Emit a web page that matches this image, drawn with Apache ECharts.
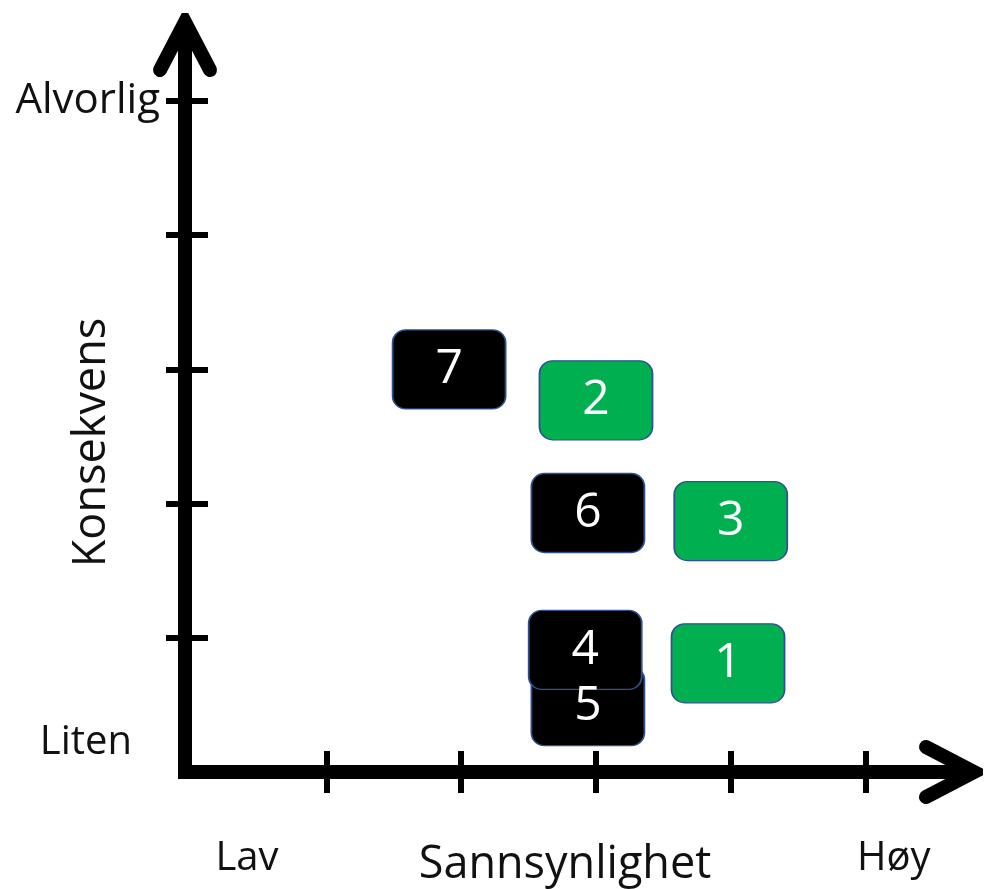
<!DOCTYPE html>
<html><head><meta charset="utf-8">
<script src="https://cdn.jsdelivr.net/npm/echarts@6/dist/echarts.min.js"></script>
<style>html,body{margin:0;padding:0;background:#fff}#c{width:984px;height:889px}</style>
</head><body><div id="c"></div>
<script>
// ---- data ----
const greenIds = ['1', '2', '3'];
const greenX = [3.98, 3.00, 4.00];
const greenY = [0.81, 2.77, 1.87];
const blackIds = ['7', '6', '5', '4'];
const blackX = [1.91, 2.94, 2.94, 2.92];
const blackY = [3.00, 1.93, 0.49, 0.91];
const xTicks = [1, 2, 3, 4, 5];
const yTicks = [1, 2, 3, 4, 5];
const xLabels = ['Lav', 'Høy'];
const yLabels = ['Liten', 'Alvorlig'];
const xName = 'Sannsynlighet';
const yName = 'Konsekvens';

// ---- style ----
const FONT = 'Open Sans';
const TXT = '#111111';
const arrowPath = 'path://M3.2,-9 L31.21,44.77 A7,7 0 0 1 18.79,51.23 L0,15.15 L-18.79,51.23 A7,7 0 0 1 -31.21,44.77 L-3.2,-9 Z';
const boxPath = 'path://M13,0 L100,0 A13,13 0 0 1 113,13 L113,66 A13,13 0 0 1 100,79 L13,79 A13,13 0 0 1 0,66 L0,13 A13,13 0 0 1 13,0 Z';
const X_MIN = -0.05, X_MAX = 5.694, Y_MIN = 0, Y_MAX = 5.477;

const mainLine = {
  show: true, onZero: false,
  symbol: ['none', arrowPath], symbolSize: [64, 64], symbolOffset: [0, -8],
  lineStyle: { color: '#000', width: 14, cap: 'square' }
};
const tickAxisCommon = {
  axisLine: { show: false, onZero: false },
  axisLabel: { show: false },
  splitLine: { show: false },
  axisTick: { show: true, inside: false, length: 42, lineStyle: { color: '#000', width: 6 } }
};

const chart = echarts.init(document.getElementById('c'), null, { renderer: 'canvas' });
chart.setOption({
  animation: false,
  backgroundColor: '#ffffff',
  grid: { left: 185, top: 37, width: 774, height: 735, outerBoundsMode: 'none' },
  xAxis: [
    {
      type: 'value', position: 'bottom', min: X_MIN, max: X_MAX,
      axisLine: mainLine,
      axisTick: { show: false },
      splitLine: { show: false },
      axisLabel: {
        show: true, customValues: [0.41, 5.21], margin: 67,
        formatter: v => (v < 2.5 ? xLabels[0] : xLabels[1]),
        fontSize: 40, fontFamily: FONT, color: TXT
      },
      name: xName, nameLocation: 'middle', nameGap: 71, nameMoveOverlap: false,
      nameTextStyle: { fontSize: 45, fontFamily: FONT, color: TXT, padding: [0, 14, 0, 0] }
    },
    Object.assign({
      type: 'value', position: 'bottom', offset: -21, min: X_MIN, max: X_MAX
    }, tickAxisCommon, {
      axisTick: Object.assign({}, tickAxisCommon.axisTick, { customValues: xTicks })
    })
  ],
  yAxis: [
    {
      type: 'value', position: 'left', min: Y_MIN, max: Y_MAX,
      axisLine: mainLine,
      axisTick: { show: false },
      splitLine: { show: false },
      axisLabel: {
        show: true, customValues: [0.22, 5], margin: 25,
        formatter: v => (v < 2.5 ? '{a|' + yLabels[0] + '}' : '{b|' + yLabels[1] + '}'),
        fontSize: 40, fontFamily: FONT, color: TXT,
        rich: {
          a: { fontSize: 40, fontFamily: FONT, color: TXT, padding: [0, 28, 0, 0] },
          b: { fontSize: 42, fontFamily: FONT, color: TXT }
        }
      },
      name: yName, nameLocation: 'middle', nameGap: 70, nameRotate: 90, nameMoveOverlap: false,
      nameTextStyle: { fontSize: 45, fontFamily: FONT, color: TXT, padding: [0, 76, 0, 0] }
    },
    Object.assign({
      type: 'value', position: 'left', offset: -23, min: Y_MIN, max: Y_MAX
    }, tickAxisCommon, {
      axisTick: Object.assign({}, tickAxisCommon.axisTick, { customValues: yTicks })
    })
  ],
  series: [
    {
      type: 'scatter', xAxisIndex: 0, yAxisIndex: 0, z: 5,
      data: greenIds.map((id, i) => ({ name: id, value: [greenX[i], greenY[i]] })),
      symbol: boxPath, symbolSize: [113, 79],
      itemStyle: { color: '#00B050', borderColor: '#2F528F', borderWidth: 1.5, opacity: 1 },
      label: { show: true, position: 'inside', formatter: '{b}', color: '#fff', fontSize: 48, fontFamily: FONT },
      emphasis: { disabled: true }
    },
    {
      type: 'scatter', xAxisIndex: 0, yAxisIndex: 0, z: 5,
      data: blackIds.map((id, i) => ({ name: id, value: [blackX[i], blackY[i]] })),
      symbol: boxPath, symbolSize: [113, 79],
      itemStyle: { color: '#000000', borderColor: '#2F528F', borderWidth: 1.5, opacity: 1 },
      label: { show: true, position: 'inside', formatter: '{b}', color: '#fff', fontSize: 48, fontFamily: FONT },
      emphasis: { disabled: true }
    }
  ]
});
</script>
</body></html>
